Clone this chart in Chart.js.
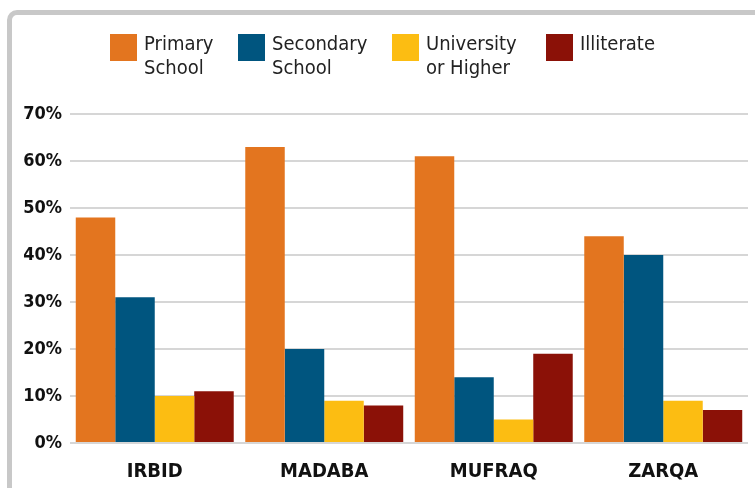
<!DOCTYPE html>
<html>
<head>
<meta charset="utf-8">
<script src="https://cdn.jsdelivr.net/npm/chart.js@4.4.1/dist/chart.umd.min.js"></script>
<style>
  html, body { margin: 0; padding: 0; background: #fff; }
  #wrap { position: relative; width: 755px; height: 488px; overflow: hidden; }
  #frame {
    position: absolute; left: 7px; top: 10px; width: 800px; height: 540px;
    border: 5px solid #c8c8c8; border-radius: 10px; box-sizing: border-box;
  }
  #chart { position: absolute; left: 0; top: 0; }
  .leg { position: absolute; top: 34px; display: flex; align-items: flex-start;
    font-family: "DejaVu Sans Condensed", "Liberation Sans Narrow", "DejaVu Sans", sans-serif;
    font-size: 20px; line-height: 24px; color: #222; }
  .leg .box { width: 27px; height: 27px; margin-right: 7px; flex: none; }
  .leg .txt { margin-top: -3px; }
</style>
</head>
<body>
<div id="wrap">
  <div id="frame"></div>
  <canvas id="chart" width="755" height="488"></canvas>
  <div id="legend"></div>
</div>
<script>
const regions = ["IRBID", "MADABA", "MUFRAQ", "ZARQA"];
const seriesNames = [["Primary", "School"], ["Secondary", "School"], ["University", "or Higher"], ["Illiterate"]];
const seriesColors = ["#e3751f", "#00557f", "#fcbd12", "#8b1107"];
const primarySchool = [48, 63, 61, 44];
const secondarySchool = [31, 20, 14, 40];
const universityOrHigher = [10, 9, 5, 9];
const illiterate = [11, 8, 19, 7];
const yTicks = [0, 10, 20, 30, 40, 50, 60, 70];

const legendX = [110, 238, 392, 546];

const allSeries = [primarySchool, secondarySchool, universityOrHigher, illiterate];

// legend drawn as html so the two line labels sit like the original
const legendEl = document.getElementById("legend");
seriesNames.forEach((name, i) => {
  const item = document.createElement("div");
  item.className = "leg";
  item.style.left = legendX[i] + "px";
  item.innerHTML = '<div class="box" style="background:' + seriesColors[i] + '"></div><div class="txt">' + name.join("<br>") + "</div>";
  legendEl.appendChild(item);
});

const fontFamily = "'DejaVu Sans Condensed', 'DejaVu Sans', sans-serif";

new Chart(document.getElementById("chart").getContext("2d"), {
  type: "bar",
  data: {
    labels: regions,
    datasets: allSeries.map((values, i) => ({
      label: seriesNames[i].join(" "),
      data: values,
      backgroundColor: seriesColors[i],
      borderWidth: 0,
      categoryPercentage: 0.932,
      barPercentage: 1.0,
    })),
  },
  options: {
    responsive: false,
    animation: false,
    layout: { padding: { top: 114, right: 7, left: 0, bottom: 0 } },
    plugins: {
      legend: { display: false },
      tooltip: { enabled: false },
    },
    scales: {
      x: {
        afterFit: (scale) => { scale.height = 45; },
        grid: { display: false },
        border: { display: false },
        ticks: { color: "#111", font: { family: fontFamily, size: 20, weight: "bold" }, padding: 9 },
      },
      y: {
        min: 0,
        max: 70,
        afterFit: (scale) => { scale.width = 70; },
        afterBuildTicks: (scale) => { scale.ticks = yTicks.map((v) => ({ value: v })); },
        border: { display: false },
        grid: { color: "#d6d6d6", lineWidth: 2, drawTicks: false },
        ticks: {
          color: "#111",
          font: { family: fontFamily, size: 18, weight: "bold" },
          padding: 8,
          callback: (v) => v + "%",
        },
      },
    },
  },
});
</script>
</body>
</html>
